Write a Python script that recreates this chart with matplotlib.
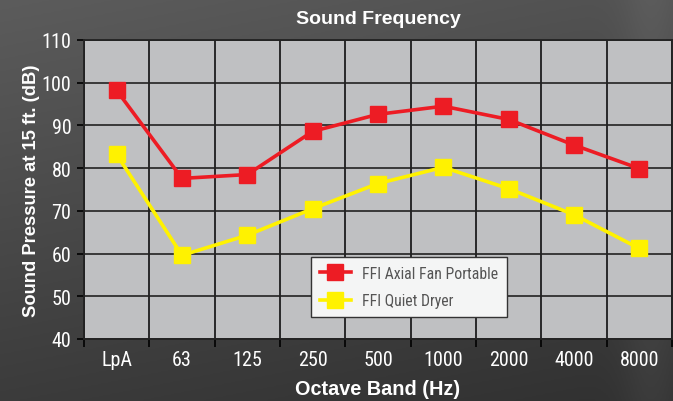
import numpy as np
import matplotlib
matplotlib.use("Agg")
import matplotlib.pyplot as plt
from matplotlib.font_manager import FontProperties

categories = ["LpA", "63", "125", "250", "500", "1000", "2000", "4000", "8000"]
axial_fan = [98.2, 77.6, 78.5, 88.6, 92.6, 94.5, 91.4, 85.4, 79.9]
quiet_dryer = [83.2, 59.6, 64.3, 70.5, 76.4, 80.2, 75.2, 69.1, 61.2]
y_ticks = [40, 50, 60, 70, 80, 90, 100, 110]

narrow = ["Liberation Sans Narrow", "Roboto Condensed", "DejaVu Sans Condensed", "DejaVu Sans"]
bold = ["Liberation Sans", "DejaVu Sans"]

fig = plt.figure(figsize=(6.73, 4.02), dpi=100)

# background gradient
bg = fig.add_axes([0, 0, 1, 1], zorder=-10)
yy, xx = np.mgrid[0:1:200j, 0:1:300j]
g = 0.36 - 0.17 * (0.75 * yy + 0.25 * xx)
g = g + 0.04 * np.exp(-((xx - 0.97) ** 2) / 0.002)
bg.imshow(np.dstack([g, g, g]), aspect="auto", extent=[0, 1, 0, 1], origin="upper")
bg.axis("off")

ax = fig.add_axes([84 / 673, 62 / 402, 588 / 673, 299 / 402])
ax.set_facecolor("#bfc0c2")
x = np.arange(len(categories))

ax.plot(x, axial_fan, color="#ed1c24", lw=2.6, marker="s", ms=11.5, label="FFI Axial Fan Portable", zorder=3)
ax.plot(x, quiet_dryer, color="#fff200", lw=2.6, marker="s", ms=11.5, label="FFI Quiet Dryer", zorder=3)

ax.set_xlim(-0.5, len(categories) - 0.5)
ax.set_ylim(40, 110)
ax.set_yticks(y_ticks)
ax.set_xticks(x)
ax.set_xticklabels(categories)
ax.set_xticks(np.arange(len(categories) + 1) - 0.5, minor=True)
ax.tick_params(axis="x", which="major", length=0, pad=8, colors="white")
ax.tick_params(axis="x", which="minor", length=6, width=1.2, color="black")
ax.tick_params(axis="y", length=5, width=1.2, color="black", colors="white", pad=4)
ax.tick_params(axis="y", color="black")
for lab in ax.get_xticklabels() + ax.get_yticklabels():
    lab.set_fontproperties(FontProperties(family=narrow, size=14.5))
    lab.set_color("white")

ax.grid(True, axis="y", color="#222222", lw=1.2)
ax.grid(True, axis="x", which="minor", color="black", lw=1.1)
ax.set_axisbelow(True)
for s in ax.spines.values():
    s.set_color("#222222")
    s.set_linewidth(1.3)

ax.set_title("Sound Frequency", color="white", fontsize=14, fontweight="bold", family=bold, pad=12)
ax.set_xlabel("Octave Band (Hz)", color="white", fontsize=14.3, fontweight="bold", family=bold, labelpad=7)
ax.set_ylabel("Sound Pressure at 15 ft. (dB)", color="white", fontsize=13.2, fontweight="bold", family=bold, labelpad=1)

leg = ax.legend(loc="lower left", bbox_to_anchor=(0.386, 0.074), borderaxespad=0, frameon=True, fancybox=False,
                prop=FontProperties(family=narrow, size=11.3), borderpad=0.55, labelspacing=0.8,
                handlelength=2.0, handletextpad=0.7, markerscale=0.95)
leg.get_frame().set_facecolor("#f4f5f5")
leg.get_frame().set_edgecolor("#333333")
leg.get_frame().set_linewidth(1.0)
leg.get_frame().set_alpha(1)
for t in leg.get_texts():
    t.set_color("#555555")

fig.savefig("out.png", dpi=100)
